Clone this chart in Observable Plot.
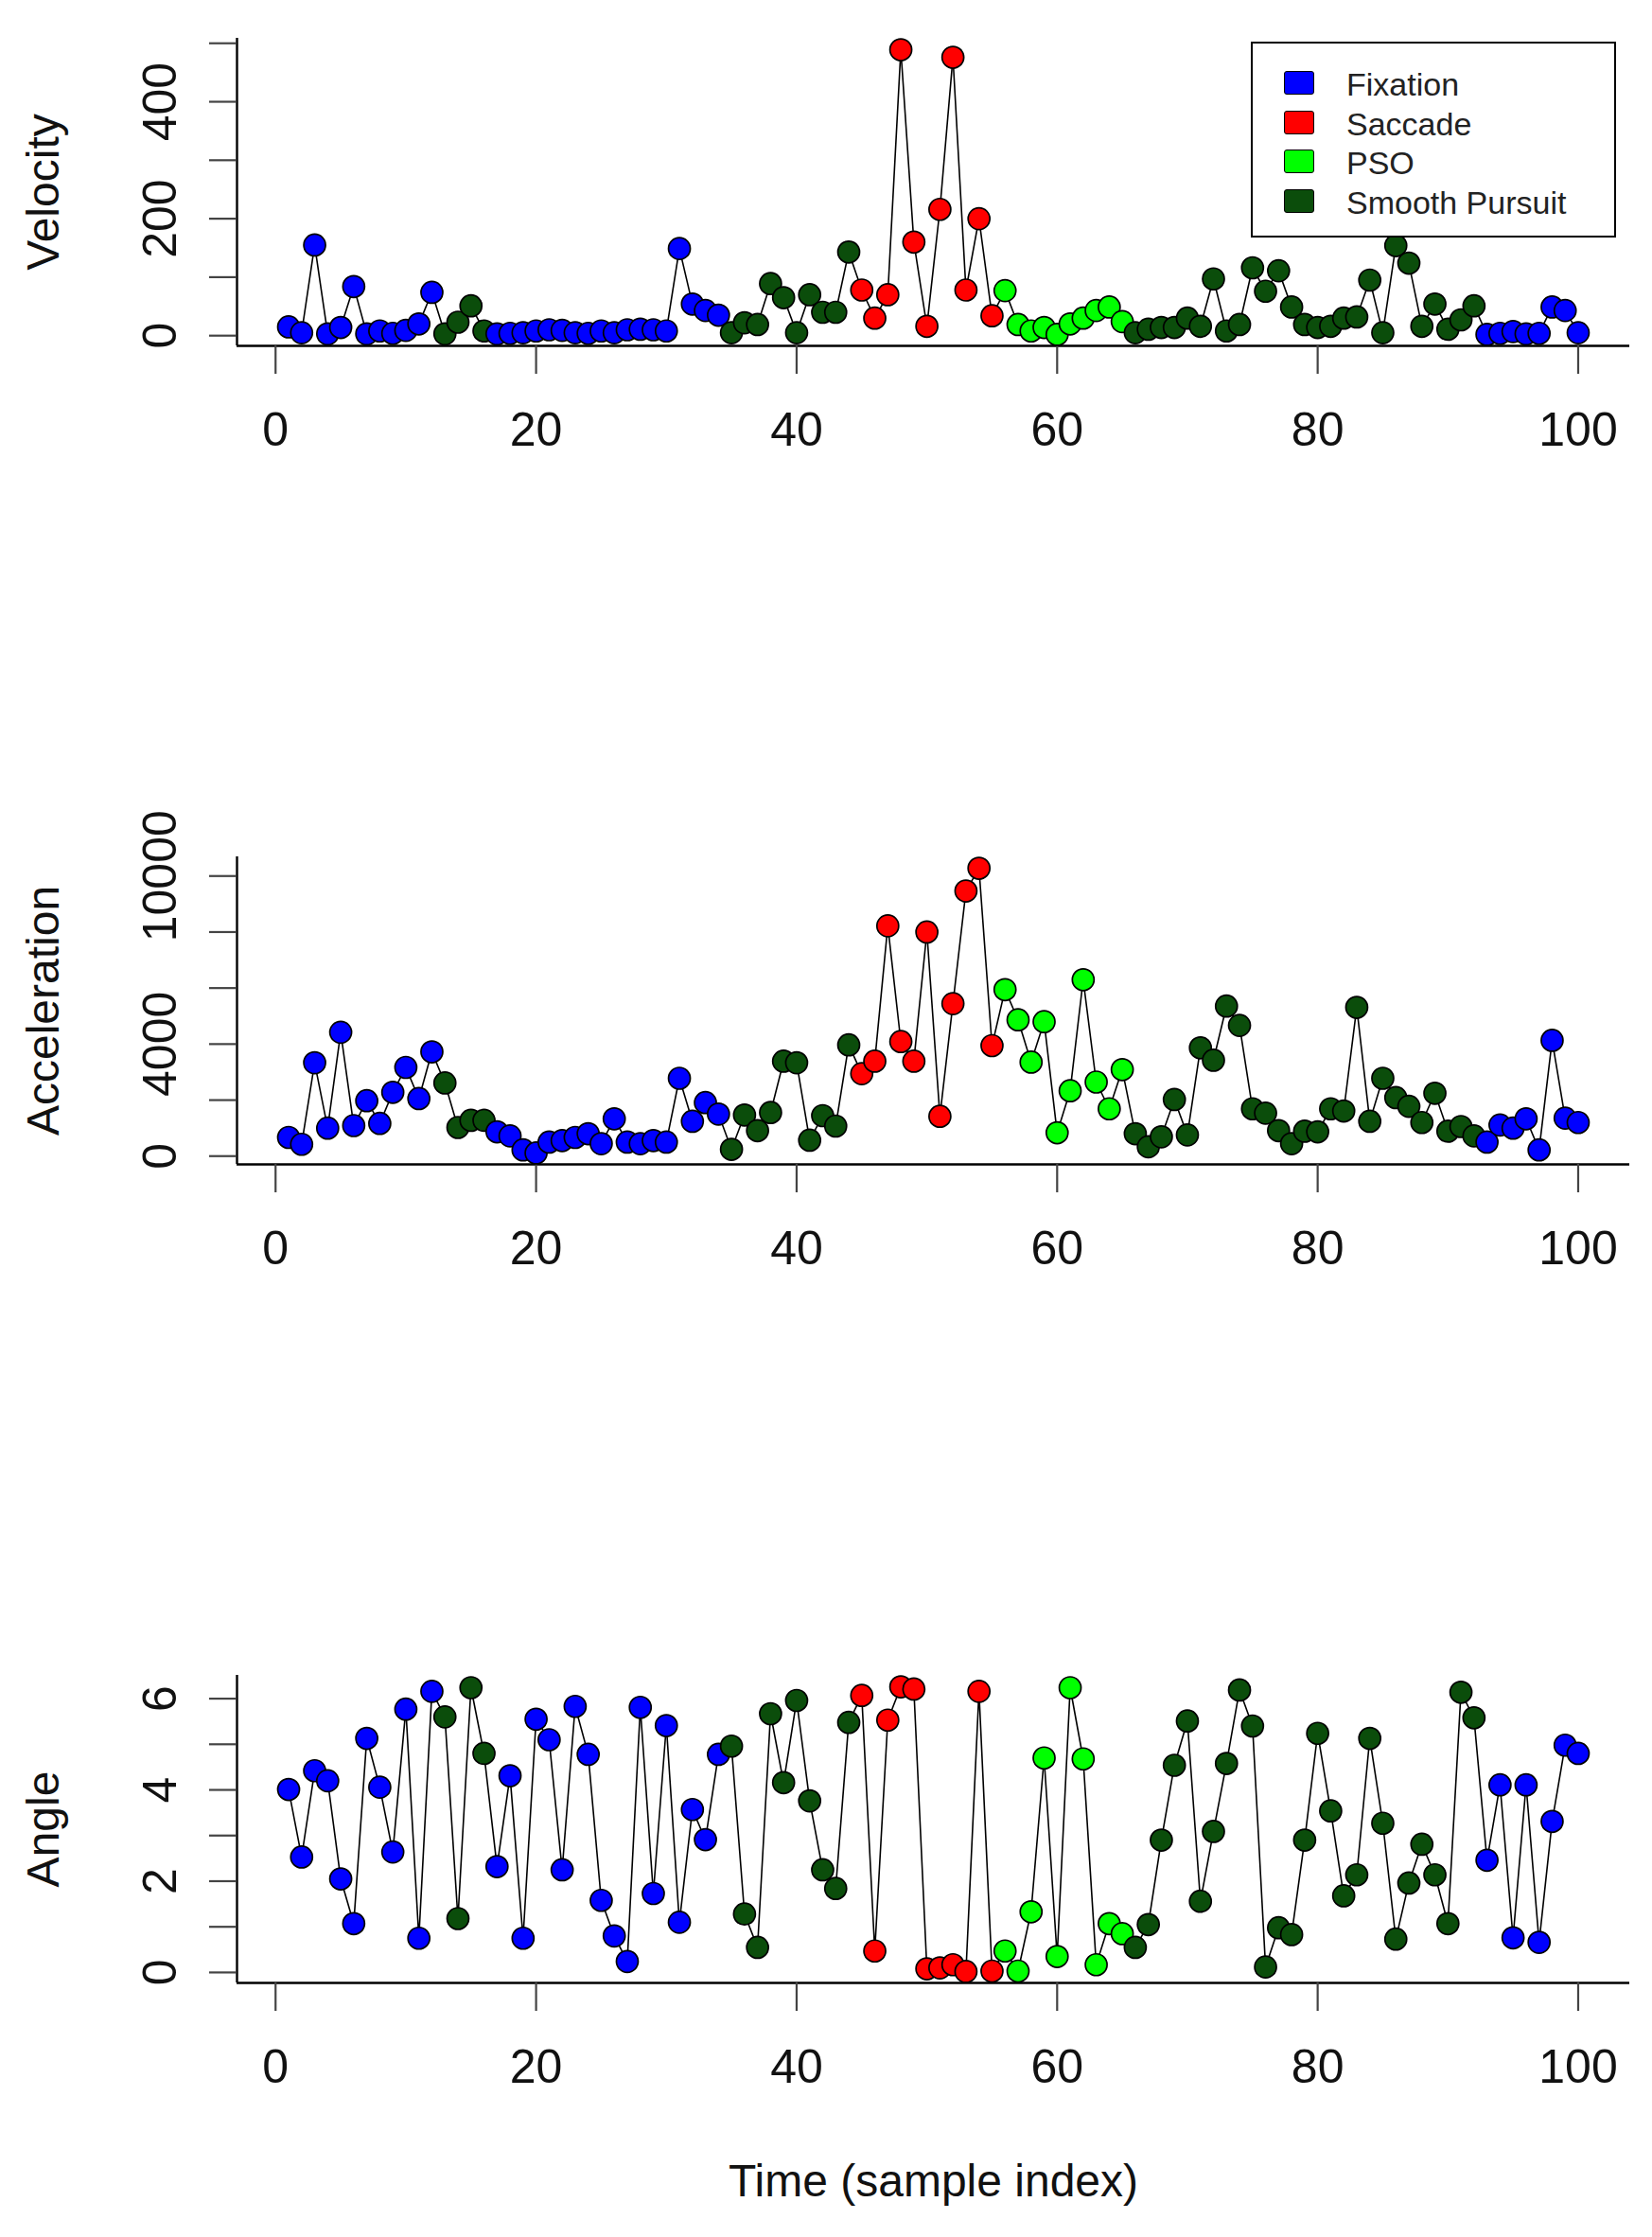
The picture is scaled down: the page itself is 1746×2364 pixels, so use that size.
<!DOCTYPE html>
<html>
<head>
<meta charset="utf-8">
<script src="https://cdn.jsdelivr.net/npm/d3@7"></script>
<script src="https://cdn.jsdelivr.net/npm/@observablehq/plot@0.6"></script>
<style>
  html, body { margin: 0; padding: 0; background: #fff; }
  #page { position: relative; width: 1746px; height: 2364px; background: #fff; font-family: "Liberation Sans", Arial, sans-serif; }
  .panel { position: absolute; left: 0; }
  #legend { position: absolute; box-sizing: border-box; border: 2.5px solid #000; background: #fff; }
  .lg-sw { position: absolute; box-sizing: border-box; border: 1.5px solid #000; border-radius: 3px; }
  .lg-tx { position: absolute; font-size: 34px; color: #222; line-height: 1; white-space: nowrap; }
</style>
</head>
<body>
<div id="page"></div>
<script>
// ---- data ----
const phaseNames = ["Fixation", "Saccade", "PSO", "Smooth Pursuit"];
const phaseColors = ["#0000ff", "#ff0000", "#00ff00", "#0b4d0b"];
// consecutive runs of event labels over samples 1..100
const phaseRuns = [
  ["Fixation", 12], ["Smooth Pursuit", 4], ["Fixation", 18], ["Smooth Pursuit", 10],
  ["Saccade", 11], ["PSO", 10], ["Smooth Pursuit", 27], ["Fixation", 8]
];
const velocity = [
  15, 5, 155, 3, 14, 84, 3, 8, 4, 9, 20, 74, 3, 23, 51, 8,
  3, 4, 5, 8, 10, 9, 5, 4, 8, 5, 10, 11, 10, 8,
  149, 54, 43, 35, 5, 22, 19, 89, 65, 5,
  70, 40, 40, 143, 78, 30, 70, 489, 160, 16,
  216, 476, 78, 200, 34, 77, 19, 8, 14, 2,
  20, 30, 43, 49, 24, 5, 11, 14, 14, 30,
  16, 97, 8, 19, 116, 76, 111, 49, 19, 14,
  16, 30, 32, 95, 5, 154, 124, 16, 54, 11,
  27, 51, 2, 4, 7, 3, 4, 49, 43, 5
];
const acceleration = [
  667, 422, 3333, 1000, 4422, 1089, 1978, 1167, 2278, 3167,
  2055, 3722, 2611, 1022, 1278, 1278, 867, 722, 222, 111,
  500, 556, 667, 800, 444, 1333, 500, 444, 556, 500,
  2778, 1244, 1911, 1500, 244, 1467, 911, 1556, 3389, 3333,
  567, 1444, 1072, 3972, 2944, 3389, 8222, 4089, 3389, 8000,
  1422, 5444, 9467, 10278, 3944, 5944, 4867, 3356, 4800, 833,
  2333, 6300, 2644, 1689, 3089, 800, 333, 689, 2022, 756,
  3867, 3422, 5356, 4667, 1689, 1533, 911, 444, 889, 867,
  1689, 1611, 5311, 1244, 2778, 2089, 1778, 1200, 2244, 889,
  1056, 722, 500, 1111, 1000, 1333, 222, 4133, 1356, 1200
];
const angle = [
  4.01, 2.53, 4.42, 4.20, 2.05, 1.07, 5.13, 4.06, 2.64, 5.77,
  0.75, 6.16, 5.60, 1.18, 6.24, 4.80, 2.32, 4.31, 0.75, 5.55,
  5.10, 2.25, 5.83, 4.78, 1.58, 0.80, 0.24, 5.81, 1.73, 5.41,
  1.10, 3.57, 2.91, 4.78, 4.96, 1.28, 0.55, 5.67, 4.16, 5.96,
  3.76, 2.25, 1.84, 5.48, 6.07, 0.47, 5.53, 6.26, 6.21, 0.08,
  0.10, 0.17, 0.02, 6.16, 0.03, 0.47, 0.03, 1.33, 4.70, 0.35,
  6.24, 4.68, 0.17, 1.07, 0.85, 0.55, 1.05, 2.90, 4.54, 5.51,
  1.56, 3.09, 4.58, 6.19, 5.40, 0.12, 0.98, 0.83, 2.90, 5.24,
  3.54, 1.68, 2.14, 5.13, 3.27, 0.73, 1.96, 2.81, 2.14, 1.07,
  6.14, 5.58, 2.46, 4.11, 0.76, 4.11, 0.66, 3.31, 4.98, 4.80
];
const xTicks = [0, 20, 40, 60, 80, 100];
const velocityTicks = [0, 100, 200, 300, 400, 500];
const velocityTickLabels = [0, 200, 400];
const accelerationTicks = [0, 2000, 4000, 6000, 8000, 10000];
const accelerationTickLabels = [0, 4000, 10000];
const angleTicks = [0, 1, 2, 3, 4, 5, 6];
const angleTickLabels = [0, 2, 4, 6];
const xTitle = "Time (sample index)";

// ---- build ----
const phases = phaseRuns.flatMap(([name, n]) => Array(n).fill(name));
const N = velocity.length;
const xDomain = [1 - 0.04 * (N - 1), N + 0.04 * (N - 1)];
const page = document.getElementById("page");
const FONT = "'Liberation Sans', Arial, Helvetica, sans-serif";

function panel({values, label, ticks, tickLabels, top, height, showXTitle}) {
  const data = values.map((v, i) => ({t: i + 1, v, phase: phases[i]}));
  const [lo, hi] = d3.extent(values);
  const pad = (hi - lo) * 0.04;
  const yDomain = [lo - pad, hi + pad];
  const marks = [
    Plot.ruleX([xDomain[0]], {stroke: "#000", strokeWidth: 2.4}),
    Plot.ruleY([yDomain[0]], {stroke: "#000", strokeWidth: 2.4}),
    Plot.axisX({ticks: xTicks, tickSize: 30, tickPadding: 40, stroke: "#444", strokeWidth: 2.2,
      fontSize: 50, fill: "#111", label: null, tickFormat: d => String(d)}),
    Plot.axisY({ticks, tickSize: 29, tickPadding: 36, tickRotate: -90, stroke: "#444", strokeWidth: 2.2,
      fontSize: 50, fill: "#111", label: null,
      tickFormat: d => tickLabels.includes(d) ? String(d) : ""}),
    Plot.line(data, {x: "t", y: "v", stroke: "#000", strokeWidth: 1.6}),
    Plot.dot(data, {x: "t", y: "v", fill: "phase", stroke: "#000", strokeWidth: 1.7, r: 11.5}),
    Plot.text([label], {frameAnchor: "left", dx: -204, rotate: -90, fontSize: 48, fill: "#111",
      textAnchor: "middle", lineAnchor: "middle"})
  ];
  if (showXTitle) {
    marks.push(Plot.text([xTitle], {frameAnchor: "bottom", dy: 210, fontSize: 48, fill: "#111",
      textAnchor: "middle", lineAnchor: "middle"}));
  }
  const svg = Plot.plot({
    width: 1746, height,
    marginLeft: 250, marginRight: 24, marginTop: 40, marginBottom: height - 365,
    style: {fontFamily: FONT, background: "transparent", color: "#000", overflow: "visible"},
    x: {domain: xDomain},
    y: {domain: yDomain},
    color: {domain: phaseNames, range: phaseColors},
    marks
  });
  svg.classList.add("panel");
  svg.style.top = top + "px";
  page.appendChild(svg);
}

panel({values: velocity, label: "Velocity", ticks: velocityTicks, tickLabels: velocityTickLabels, top: 0, height: 560});
panel({values: acceleration, label: "Acceleration", ticks: accelerationTicks, tickLabels: accelerationTickLabels, top: 865, height: 560});
panel({values: angle, label: "Angle", ticks: angleTicks, tickLabels: angleTickLabels, top: 1730, height: 634, showXTitle: true});

// ---- legend (top-right inside velocity panel) ----
const legend = document.createElement("div");
legend.id = "legend";
Object.assign(legend.style, {left: "1322px", top: "44px", width: "386px", height: "207px"});
page.appendChild(legend);
phaseNames.forEach((name, i) => {
  const cy = 41 + i * 41.5;
  const sw = document.createElement("div");
  sw.className = "lg-sw";
  Object.assign(sw.style, {left: "33px", top: (cy - 12) + "px", width: "32px", height: "25px", background: phaseColors[i]});
  legend.appendChild(sw);
  const tx = document.createElement("div");
  tx.className = "lg-tx";
  tx.textContent = name;
  Object.assign(tx.style, {left: "99px", top: (cy - 15) + "px", fontFamily: FONT});
  legend.appendChild(tx);
});
</script>
</body>
</html>
